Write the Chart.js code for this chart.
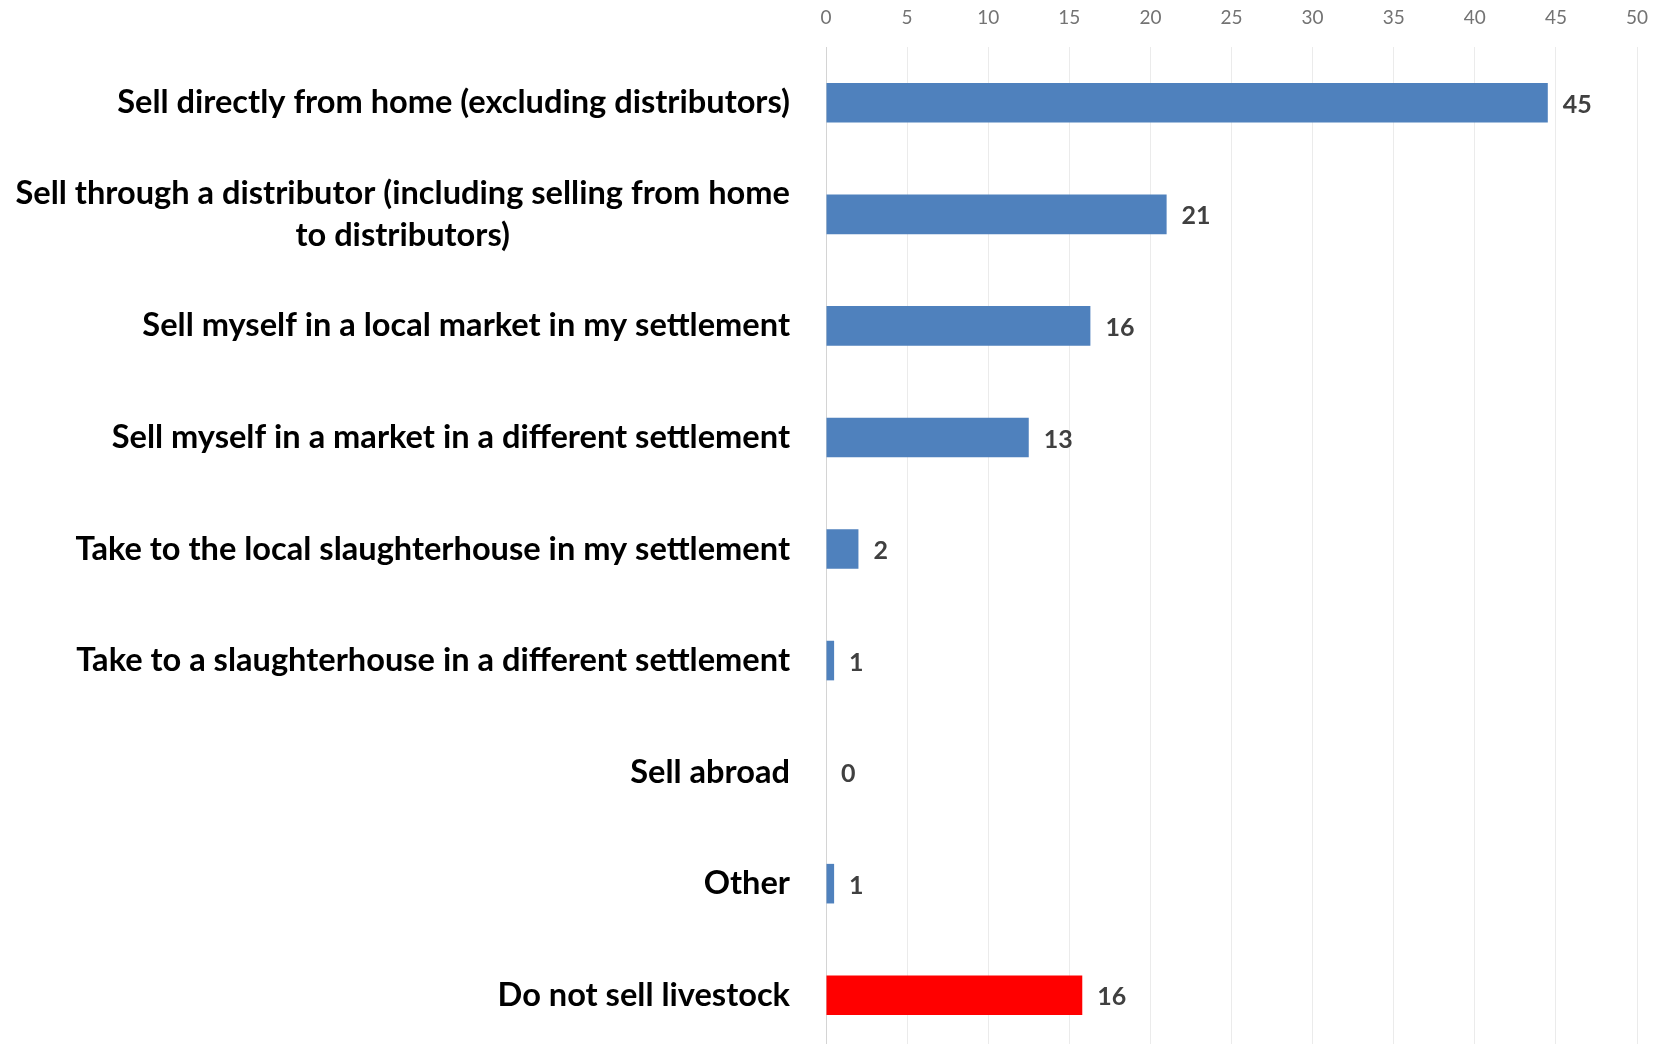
<!DOCTYPE html>
<html>
<head>
<meta charset="utf-8">
<script src="https://cdn.jsdelivr.net/npm/chart.js@4"></script>
<style>
  html, body { margin: 0; padding: 0; background: #ffffff; overflow: hidden; }
  #wrap { position: relative; width: 1658px; height: 1051px; }
</style>
</head>
<body>
<div id="wrap"><canvas id="c"></canvas></div>
<script>
const categories = [
  "Sell directly from home (excluding distributors)",
  ["Sell through a distributor (including selling from home", "to distributors)"],
  "Sell myself in a local market in my settlement",
  "Sell myself in a market in a different settlement",
  "Take to the local slaughterhouse in my settlement",
  "Take to a slaughterhouse in a different settlement",
  "Sell abroad",
  "Other",
  "Do not sell livestock"
];
const values = [44.5, 21.0, 16.3, 12.5, 2.0, 0.5, 0, 0.5, 15.8];
const valueLabels = ["45", "21", "16", "13", "2", "1", "0", "1", "16"];
const barColors = ["#4F81BD", "#4F81BD", "#4F81BD", "#4F81BD", "#4F81BD", "#4F81BD", "#4F81BD", "#4F81BD", "#FF0000"];
const axisMin = 0;
const axisMax = 50;
const axisStep = 5;

const labelFont = "bold 32.6px Lato";
const labelLineHeight = 42;
const labelRightEdge = 790;

const categoryLabelsPlugin = {
  id: "categoryLabels",
  afterDraw(chart) {
    const ctx = chart.ctx;
    const yScale = chart.scales.y;
    ctx.save();
    ctx.font = labelFont;
    ctx.fillStyle = "#000000";
    ctx.textBaseline = "middle";
    ctx.textAlign = "center";
    chart.data.labels.forEach((lab, i) => {
      const lines = Array.isArray(lab) ? lab : [lab];
      const maxW = Math.max(...lines.map(l => ctx.measureText(l).width));
      const cx = labelRightEdge - maxW / 2;
      const cy = yScale.getPixelForValue(i);
      const startY = cy - (lines.length - 1) * labelLineHeight / 2;
      lines.forEach((l, k) => ctx.fillText(l, cx, startY + k * labelLineHeight));
    });
    ctx.restore();
  }
};

const valueLabelsPlugin = {
  id: "valueLabels",
  afterDatasetsDraw(chart) {
    const ctx = chart.ctx;
    const meta = chart.getDatasetMeta(0);
    ctx.save();
    ctx.font = "bold 25px Lato";
    ctx.fillStyle = "#404040";
    ctx.textAlign = "left";
    ctx.textBaseline = "middle";
    meta.data.forEach((bar, i) => {
      ctx.fillText(valueLabels[i], bar.x + 15, bar.y + 2);
    });
    ctx.restore();
  }
};

new Chart(document.getElementById("c"), {
  type: "bar",
  data: {
    labels: categories,
    datasets: [{
      data: values,
      backgroundColor: barColors,
      borderWidth: 0,
      categoryPercentage: 1.0,
      barPercentage: 0.355
    }]
  },
  options: {
    indexAxis: "y",
    responsive: true,
    maintainAspectRatio: false,
    animation: false,
    devicePixelRatio: 1,
    layout: { padding: { top: 0, right: 21, bottom: 0, left: 0 } },
    plugins: {
      legend: { display: false },
      tooltip: { enabled: false },
      title: { display: false }
    },
    scales: {
      x: {
        position: "top",
        min: axisMin,
        max: axisMax,
        ticks: {
          stepSize: axisStep,
          padding: 18,
          color: "#737373",
          font: { family: "Lato", size: 19 }
        },
        grid: { color: "#ebebeb", lineWidth: 1, drawTicks: false },
        border: { display: false },
        afterFit(scale) {
          scale.height = 47;
          scale.paddingRight = 0;
          scale.paddingLeft = 0;
        }
      },
      y: {
        ticks: { display: false },
        grid: { display: false },
        border: { display: true, color: "#d4d4d4", width: 1 },
        afterFit(scale) { scale.width = 826; }
      }
    }
  },
  plugins: [categoryLabelsPlugin, valueLabelsPlugin]
});
</script>
</body>
</html>
